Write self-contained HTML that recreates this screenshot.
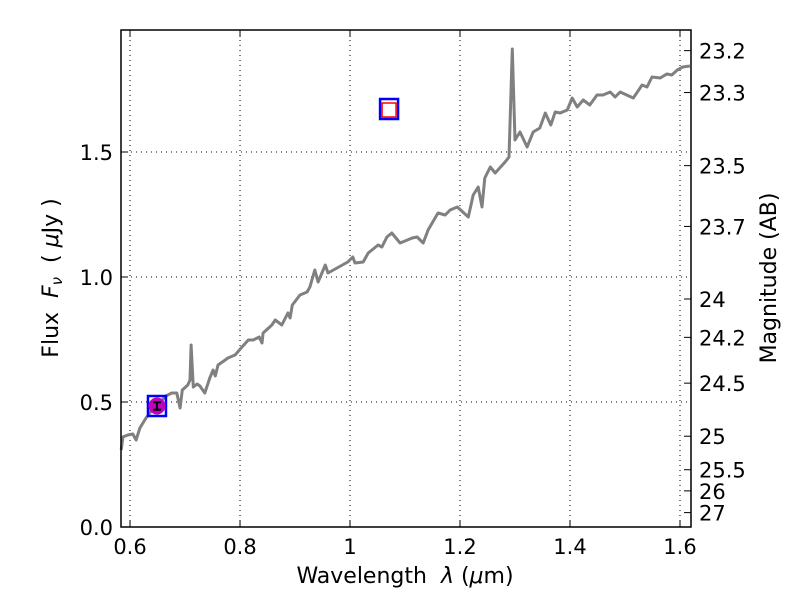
<!DOCTYPE html>
<html><head><meta charset="utf-8"><style>
html,body{margin:0;padding:0;background:#fff;}
svg{display:block;font-family:"DejaVu Sans","Liberation Sans",sans-serif;}
</style></head><body>
<svg id="chart" width="800" height="600" viewBox="0 0 800 600">
<rect width="800" height="600" fill="#fff"/>
<g id="grid"></g>
<g id="series"></g>
<g id="axes"></g>
<text x="405" y="583" font-size="22" text-anchor="middle">Wavelength&#160;&#160;<tspan font-style="italic">λ</tspan> (<tspan font-style="italic">μ</tspan>m)</text>
<text transform="translate(58,278) rotate(-90)" font-size="22" text-anchor="middle">Flux&#160;&#160;<tspan font-style="italic">F<tspan font-size="15" dy="4">ν</tspan></tspan><tspan dy="-4">&#160;&#160;( </tspan><tspan font-style="italic">μ</tspan>Jy )</text>
<text transform="translate(776,278) rotate(-90)" font-size="22" text-anchor="middle">Magnitude (AB)</text>
</svg>
<script>
const wavelength=[.584,.587,.596,.605,.611,.618,.629,.640,.651,.665,.676,.685,.691,.695,.705,.709,.711,.715,.722,.727,.736,.745,.751,.755,.760,.773,.778,.791,.802,.815,.824,.835,.840,.842,.858,.864,.876,.887,.891,.895,.909,.922,.927,.936,.942,.955,.960,.996,1.005,1.009,1.024,1.033,1.051,1.058,1.067,1.076,1.091,1.100,1.113,1.122,1.133,1.142,1.160,1.173,1.182,1.195,1.215,1.224,1.233,1.240,1.245,1.255,1.264,1.282,1.289,1.295,1.300,1.309,1.322,1.333,1.345,1.355,1.365,1.373,1.382,1.395,1.404,1.413,1.424,1.436,1.449,1.460,1.473,1.482,1.491,1.515,1.531,1.540,1.549,1.564,1.576,1.585,1.595,1.605,1.618];
const flux=[.308,.360,.368,.372,.348,.396,.436,.468,.488,.524,.536,.536,.476,.548,.568,.588,.728,.560,.572,.564,.536,.596,.628,.604,.648,.668,.676,.688,.716,.748,.748,.760,.736,.776,.808,.828,.808,.856,.836,.888,.928,.940,.960,1.028,.980,1.048,1.016,1.060,1.080,1.056,1.060,1.096,1.128,1.120,1.160,1.176,1.136,1.144,1.156,1.160,1.136,1.188,1.256,1.248,1.268,1.280,1.240,1.328,1.360,1.280,1.396,1.440,1.416,1.460,1.480,1.912,1.548,1.580,1.520,1.580,1.596,1.656,1.608,1.660,1.656,1.668,1.716,1.680,1.708,1.688,1.728,1.728,1.740,1.720,1.740,1.716,1.768,1.760,1.800,1.796,1.812,1.808,1.828,1.840,1.844];
const photLambda=[0.649];
const photFlux=[0.484];
const photErr=[0.015];
const modelLambda=[0.649,1.071];
const modelFlux=[0.484,1.672];
const predLambda=[1.071];
const predFlux=[1.668];
const xTicks=[0.6,0.8,1.0,1.2,1.4,1.6];
const xTickLabels=["0.6","0.8","1","1.2","1.4","1.6"];
const yTicks=[0,0.5,1.0,1.5];
const yTickLabels=["0.0","0.5","1.0","1.5"];
const magTicks=[23.2,23.3,23.5,23.7,24,24.2,24.5,25,25.5,26,27];
const magTickLabels=["23.2","23.3","23.5","23.7","24","24.2","24.5","25","25.5","26","27"];

const L=121,R=691,T=30,B=527;
const xMin=0.5836,xMax=1.62,yMin=0,yMax=1.988;
const X=v=>L+(v-xMin)/(xMax-xMin)*(R-L);
const Y=v=>B-(v-yMin)/(yMax-yMin)*(B-T);
const magToFlux=m=>Math.pow(10,(23.9-m)/2.5);
const NS="http://www.w3.org/2000/svg";
function mk(tag,attrs,parent){const e=document.createElementNS(NS,tag);for(const k in attrs)e.setAttribute(k,attrs[k]);parent.appendChild(e);return e;}
const grid=document.getElementById('grid'),series=document.getElementById('series'),axes=document.getElementById('axes');

xTicks.forEach(t=>{const l=mk('line',{x1:X(t),x2:X(t),y1:T,y2:B,stroke:'#000','stroke-width':1,'stroke-dasharray':'1,4'},grid);

});
yTicks.forEach(t=>{const l=mk('line',{x1:L,x2:R,y1:Y(t),y2:Y(t),stroke:'#000','stroke-width':1,'stroke-dasharray':'1,4'},grid);

});

const sp=mk('polyline',{points:wavelength.map((w,i)=>X(w).toFixed(1)+','+Y(flux[i]).toFixed(1)).join(' '),fill:'none',stroke:'#808080','stroke-width':3,'stroke-linejoin':'round'},series);



modelLambda.forEach((w,i)=>{const s=mk('rect',{x:X(w)-9,y:Y(modelFlux[i])-10,width:18,height:20,fill:'none',stroke:'#0000ff','stroke-width':2.5},series);

});
predLambda.forEach((w,i)=>{const s=mk('rect',{x:X(w)-7,y:Y(predFlux[i])-7,width:14,height:14,fill:'none',stroke:'#ff0000','stroke-width':1.5},series);

});
photLambda.forEach((w,i)=>{const cx=X(w),cy=Y(photFlux[i]);
const c=mk('circle',{cx:cx,cy:cy,r:8.5,fill:'#bf00bf'},series);


const y1=Y(photFlux[i]+photErr[i]),y2=Y(photFlux[i]-photErr[i]);
const g=mk('path',{d:`M${cx},${y1}V${y2}M${cx-4},${y1}H${cx+4}M${cx-4},${y2}H${cx+4}`,stroke:'#000','stroke-width':2,fill:'none'},series);

});

const fr=mk('rect',{x:L,y:T,width:R-L,height:B-T,fill:'none',stroke:'#000','stroke-width':1.5},axes);


xTicks.forEach((t,i)=>{mk('line',{x1:X(t),x2:X(t),y1:B,y2:B-7,stroke:'#000'},axes);mk('line',{x1:X(t),x2:X(t),y1:T,y2:T+7,stroke:'#000'},axes);
const tx=mk('text',{x:X(t),y:B+27,'font-size':21,'text-anchor':'middle'},axes);tx.textContent=xTickLabels[i];

});
yTicks.forEach((t,i)=>{mk('line',{x1:L,x2:L+7,y1:Y(t),y2:Y(t),stroke:'#000'},axes);
const tx=mk('text',{x:L-8,y:Y(t)+8,'font-size':21,'text-anchor':'end'},axes);tx.textContent=yTickLabels[i];

});
magTicks.forEach((m,i)=>{const y=Y(magToFlux(m));mk('line',{x1:R,x2:R-7,y1:y,y2:y,stroke:'#000'},axes);
const tx=mk('text',{x:R+8,y:y+8,'font-size':21,'text-anchor':'start'},axes);tx.textContent=magTickLabels[i];

});
</script>
</body></html>
